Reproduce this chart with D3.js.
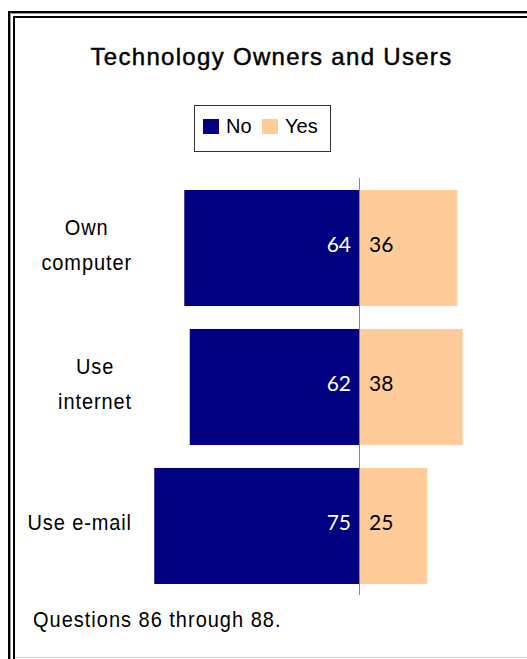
<!DOCTYPE html>
<html>
<head>
<meta charset="utf-8">
<script src="https://cdn.jsdelivr.net/npm/d3@7"></script>
<style>
  html, body { margin: 0; padding: 0; background: #fff; }
  svg { display: block; }
</style>
</head>
<body>
<svg id="chart" width="527" height="659"></svg>
<script>
// ---- data ----
const categories = ["Own computer", "Use internet", "Use e-mail"];
const categoryLines = [["Own", "computer"], ["Use", "internet"], ["Use e-mail"]];
const noValues = [64, 62, 75];
const yesValues = [36, 38, 25];
const seriesNames = ["No", "Yes"];
const seriesColors = ["#000080", "#FFCC99"];
const titleText = "Technology Owners and Users";
const noteText = "Questions 86 through 88.";

// ---- chart ----
const svg = d3.select("#chart");
const W = 527, H = 659;
const sansFont = "'Liberation Sans', Arial, sans-serif";

// frame: double line on top/left, grey line on bottom
const frame = svg.append("g");
frame.append("path").attr("d", `M9,${H} V12 H${W}`).attr("fill", "none").attr("stroke", "#000").attr("stroke-width", 2);
frame.append("path").attr("d", `M10.5,${H} V13.5 H${W}`).attr("fill", "none").attr("stroke", "#999").attr("stroke-width", 1);
frame.append("path").attr("d", `M14,${H} V17 H${W}`).attr("fill", "none").attr("stroke", "#000").attr("stroke-width", 2);
frame.append("line").attr("x1", 15).attr("x2", W).attr("y1", 657.5).attr("y2", 657.5).attr("stroke", "#ccc").attr("stroke-width", 1);

// title
svg.append("text")
  .attr("transform", "translate(271.5,65)")
  .attr("text-anchor", "middle")
  .attr("font-family", sansFont)
  .attr("font-size", 24)
  .attr("letter-spacing", 1.3)
  .attr("fill", "#000")
  .attr("stroke", "#000").attr("stroke-width", 0.45)
  .text(titleText);

// legend
const legend = svg.append("g");
legend.append("rect").attr("x", 194.5).attr("y", 105.5).attr("width", 136).attr("height", 46)
  .attr("fill", "#fff").attr("stroke", "#333").attr("stroke-width", 1);
const legendX = [203, 262];
seriesNames.forEach((s, i) => {
  legend.append("rect").attr("x", legendX[i]).attr("y", 119).attr("width", 16).attr("height", 15).attr("fill", seriesColors[i]);
  legend.append("text").attr("x", legendX[i] + 23).attr("y", 133)
    .attr("font-family", sansFont)
    .attr("font-size", 20).attr("fill", "#000").text(s);
});

// scales
const x = d3.scaleLinear().domain([-100, 100]).range([86, 632]);
const y = d3.scaleBand().domain(categories).range([190, 584]).paddingInner(0.165).paddingOuter(0);

const rows = categories.map((c, i) => ({ cat: c, lines: categoryLines[i], no: noValues[i], yes: yesValues[i] }));

const g = svg.append("g");
// No bars
g.selectAll("rect.no").data(rows).join("rect")
  .attr("class", "no")
  .attr("x", d => x(-d.no)).attr("width", d => x(0) - x(-d.no))
  .attr("y", d => y(d.cat)).attr("height", y.bandwidth())
  .attr("fill", seriesColors[0]);
// Yes bars
g.selectAll("rect.yes").data(rows).join("rect")
  .attr("class", "yes")
  .attr("x", x(0)).attr("width", d => x(d.yes) - x(0))
  .attr("y", d => y(d.cat)).attr("height", y.bandwidth())
  .attr("fill", seriesColors[1]);

// center axis line
g.append("line")
  .attr("x1", Math.round(x(0)) + 0.5).attr("x2", Math.round(x(0)) + 0.5)
  .attr("y1", 178).attr("y2", 595)
  .attr("stroke", "#888").attr("stroke-width", 1);

// value labels
const valFont = "Lato, 'Open Sans', sans-serif";
g.selectAll("text.nov").data(rows).join("text")
  .attr("class", "nov")
  .attr("x", x(0) - 8).attr("y", d => y(d.cat) + y.bandwidth() / 2 - 4.5)
  .attr("dominant-baseline", "central").attr("text-anchor", "end")
  .attr("font-family", valFont).attr("font-size", 21).attr("fill", "#fff")
  .text(d => d.no);
g.selectAll("text.yesv").data(rows).join("text")
  .attr("class", "yesv")
  .attr("x", x(0) + 10).attr("y", d => y(d.cat) + y.bandwidth() / 2 - 4.5)
  .attr("dominant-baseline", "central").attr("text-anchor", "start")
  .attr("font-family", valFont).attr("font-size", 21).attr("fill", "#000")
  .text(d => d.yes);

// category labels (multi-line, block right-aligned, lines centered; glyphs slightly tall)
const labelRight = 132;
const lineH = 35;
const stretch = 1.12;
rows.forEach(d => {
  const cy = y(d.cat) + y.bandwidth() / 2 + 4;
  const grp = svg.append("g");
  const texts = d.lines.map((ln, i) => grp.append("text")
    .datum(cy + (i - (d.lines.length - 1) / 2) * lineH)
    .attr("text-anchor", "middle")
    .attr("font-family", sansFont).attr("font-size", 20)
    .attr("letter-spacing", 0.9)
    .attr("fill", "#000").text(ln));
  const maxW = d3.max(texts, t => t.node().getComputedTextLength());
  texts.forEach(t => t.attr("transform", by => `translate(${labelRight - maxW / 2},${by}) scale(1,${stretch})`));
});

// note
svg.append("text")
  .attr("transform", "translate(33,627) scale(1,1.06)")
  .attr("font-family", sansFont).attr("font-size", 20)
  .attr("letter-spacing", 1.0)
  .attr("fill", "#000").text(noteText);
</script>
</body>
</html>
